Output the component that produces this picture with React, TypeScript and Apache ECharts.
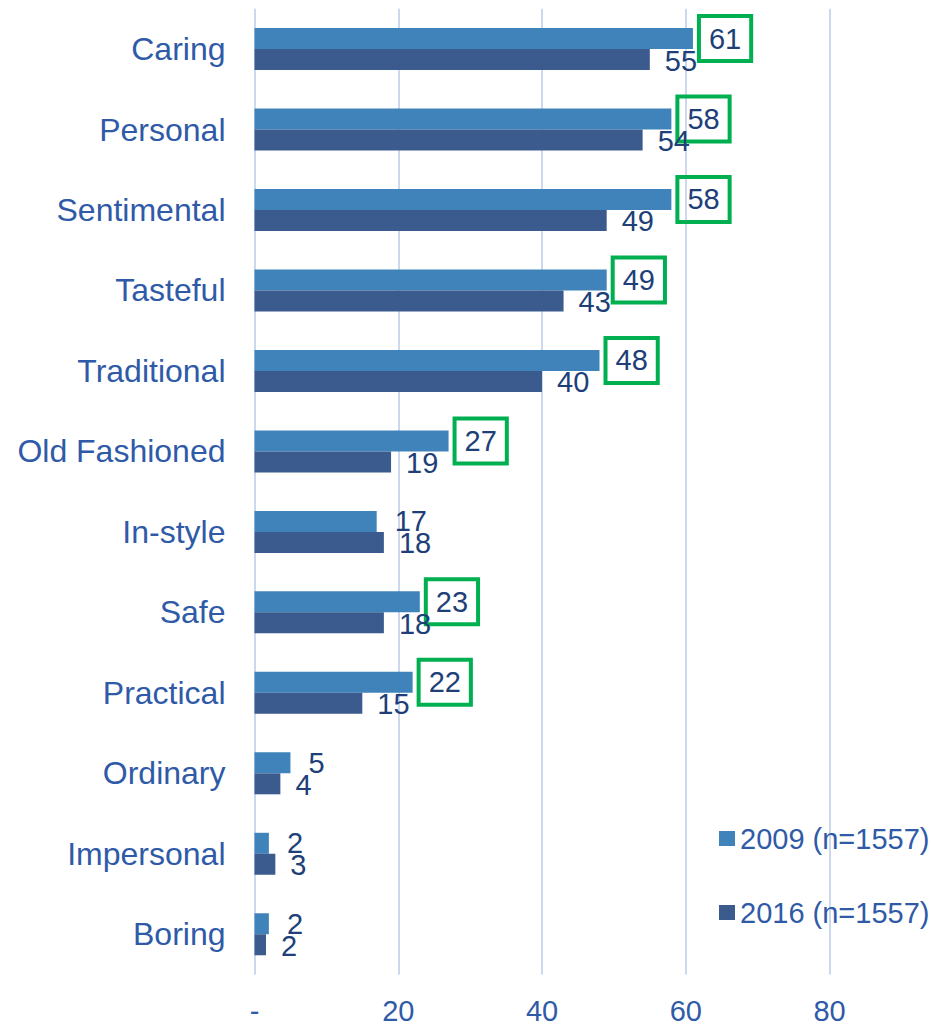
import React, { useEffect, useRef } from "react";
import * as echarts from "echarts";

const categories = ["Caring", "Personal", "Sentimental", "Tasteful", "Traditional", "Old Fashioned", "In-style", "Safe", "Practical", "Ordinary", "Impersonal", "Boring"];
const values2009 = [61, 58, 58, 49, 48, 27, 17, 23, 22, 5, 2, 2];
const values2016 = [55, 54, 49, 43, 40, 19, 18, 18, 15, 3.6, 2.9, 1.6];
const highlighted = ["Caring", "Personal", "Sentimental", "Tasteful", "Traditional", "Old Fashioned", "Safe", "Practical"];
const xTicks = [0, 20, 40, 60, 80];
const seriesNames = ["2009 (n=1557)", "2016 (n=1557)"];

const FONT = "Liberation Sans, Arial, sans-serif";
const LABEL_BLUE = "#2F5AA8";
const VALUE_NAVY = "#203F78";

export default function App() {
  const ref = useRef<HTMLDivElement>(null);
  useEffect(() => {
    if (!ref.current) return;
    const chart = echarts.init(ref.current, undefined, { renderer: "svg" });
    const data2009 = values2009.map((v, i) => {
      const boxed = highlighted.includes(categories[i]);
      return boxed
        ? {
            value: v,
            label: {
              distance: 6,
              borderColor: "#00B050",
              borderWidth: 4,
              padding: [8, 10],
            },
          }
        : { value: v, label: { distance: 18 } };
    });
    chart.setOption({
      animation: false,
      grid: { left: 254.5, right: 102.5, top: 8.8, bottom: 52.5, containLabel: false },
      legend: {
        orient: "vertical",
        left: 714,
        top: 819,
        itemGap: 45,
        itemWidth: 16,
        itemHeight: 15,
        icon: "rect",
        data: seriesNames,
        textStyle: { fontSize: 29, color: LABEL_BLUE, fontFamily: FONT },
      },
      xAxis: {
        type: "value",
        min: xTicks[0],
        max: xTicks[xTicks.length - 1],
        interval: 20,
        axisLine: { show: false },
        axisTick: { show: false },
        splitLine: { lineStyle: { color: "#CCD8EE", width: 2 } },
        axisLabel: {
          margin: 22,
          fontSize: 29,
          color: LABEL_BLUE,
          fontFamily: FONT,
          formatter: (v: number) => (v === 0 ? "-" : String(v)),
        },
      },
      yAxis: {
        type: "category",
        inverse: true,
        data: categories,
        axisLine: { show: false },
        axisTick: { show: false },
        axisLabel: { margin: 29, fontSize: 32, color: LABEL_BLUE, fontFamily: FONT },
      },
      series: [
        {
          name: seriesNames[0],
          type: "bar",
          barWidth: 21,
          barGap: "0%",
          itemStyle: { color: "#3F83BA" },
          label: {
            show: true,
            position: "right",
            fontSize: 29,
            lineHeight: 29,
            color: VALUE_NAVY,
            fontFamily: FONT,
            formatter: (p: any) => String(Math.round(p.value)),
          },
          data: data2009,
        },
        {
          name: seriesNames[1],
          type: "bar",
          barWidth: 21,
          barGap: "0%",
          itemStyle: { color: "#3B5A8E" },
          label: {
            show: true,
            position: "right",
            distance: 15,
            offset: [0, 1],
            fontSize: 29,
            lineHeight: 29,
            color: VALUE_NAVY,
            fontFamily: FONT,
            formatter: (p: any) => String(Math.round(p.value)),
          },
          data: values2016,
        },
      ],
    });
    return () => chart.dispose();
  }, []);
  return (
    <div
      ref={ref}
      style={{ position: "fixed", left: 0, top: 0, width: 932, height: 1027, background: "#fff" }}
    />
  );
}
